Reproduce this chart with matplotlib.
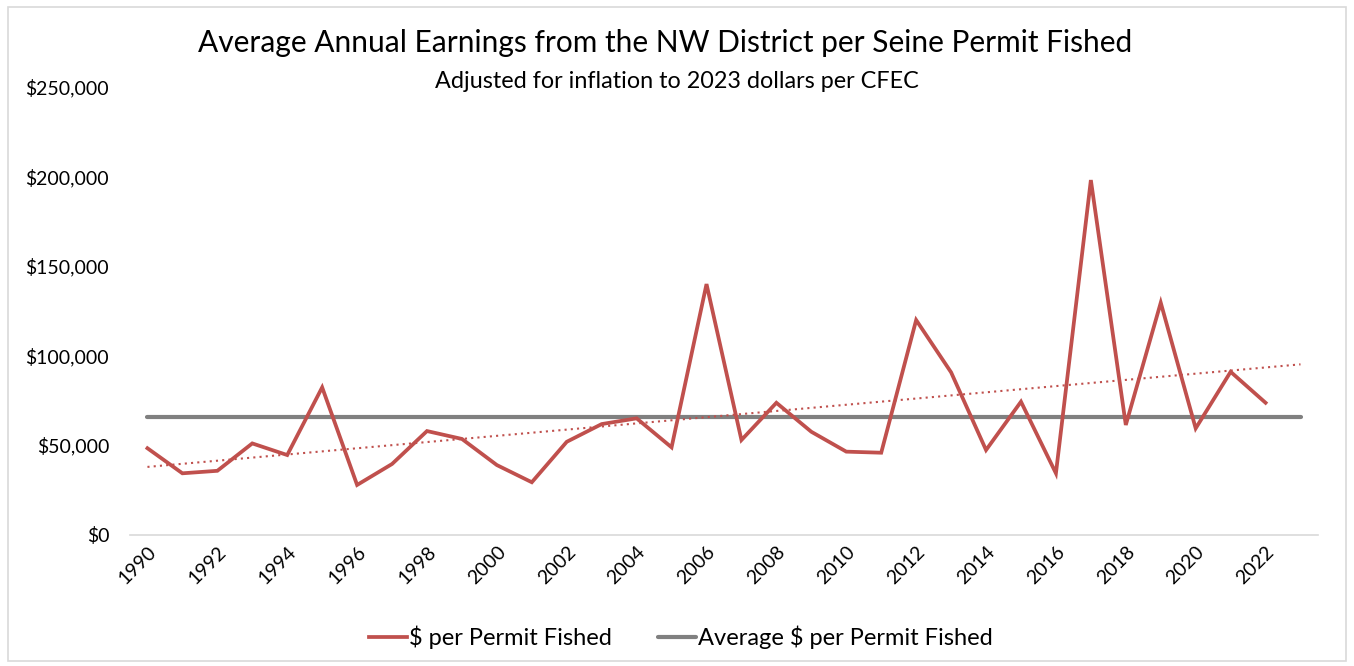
import numpy as np
import matplotlib
matplotlib.use("Agg")
import matplotlib.pyplot as plt
from matplotlib.patches import Rectangle
from matplotlib.ticker import FuncFormatter

plt.rcParams['font.family'] = ['Lato', 'DejaVu Sans']

years = list(range(1990, 2024))  # category axis includes 2023
earnings = [48200, 34200, 35600, 50900, 44400, 82200, 27700, 39400, 57800, 53400,
            38800, 29200, 51800, 61700, 64900, 48700, 139900, 52800, 73600, 57400,
            46300, 45700, 119800, 90600, 47200, 74200, 34200, 198000, 61200, 129500,
            59300, 90900, 73600]
title = "Average Annual Earnings from the NW District per Seine Permit Fished"
subtitle = "Adjusted for inflation to 2023 dollars per CFEC"
series_labels = ["$ per Permit Fished", "Average $ per Permit Fished"]
yticks = [0, 50000, 100000, 150000, 200000, 250000]

RED = "#C0504D"
GRAY = "#808080"

fig = plt.figure(figsize=(13.54, 6.66), dpi=100)
fig.patches.append(Rectangle((0.006, 0.008), 0.988, 0.982, transform=fig.transFigure,
                             fill=False, edgecolor="#d9d9d9", linewidth=1.2))

ax = fig.add_axes([0.096, 0.1974, 0.8774, 0.6720])
idx = np.arange(len(years))
n = len(earnings)
avg = np.mean(earnings)

ax.plot(idx[:n], earnings, color=RED, linewidth=2.7, solid_joinstyle='miter',
        label=series_labels[0], zorder=3)
ax.plot(idx, [avg] * len(years), color=GRAY, linewidth=3.0, solid_capstyle='round',
        label=series_labels[1], zorder=2)
coef = np.polyfit(idx[:n], earnings, 1)
ax.plot(idx, np.polyval(coef, idx), color=RED, linewidth=1.5, linestyle=(0, (1, 2.0)),
        zorder=2)

ax.set_xlim(-0.5, len(years) - 0.5)
ax.set_ylim(0, 250000)
ax.set_yticks(yticks)
ax.yaxis.set_major_formatter(FuncFormatter(lambda v, p: f"${v:,.0f}"))
ax.set_xticks(idx[:n:2])
ax.set_xticklabels([str(y) for y in years[:n:2]], rotation=45, ha='right',
                   rotation_mode='anchor')
for s in ['top', 'right', 'left']:
    ax.spines[s].set_visible(False)
ax.spines['bottom'].set_color("#d9d9d9")
ax.spines['bottom'].set_linewidth(1.2)
ax.tick_params(axis='both', length=0, labelsize=14, colors="#000000")
ax.tick_params(axis='y', pad=15)
ax.tick_params(axis='x', pad=6)

fig.text(0.491, 0.935, title, ha='center', va='center', fontsize=21.5)
fig.text(0.500, 0.877, subtitle, ha='center', va='center', fontsize=16.8)

fig.legend(loc='center', bbox_to_anchor=(0.503, 0.043), ncol=2, frameon=False,
           fontsize=17, handlelength=1.6, handletextpad=0.1, columnspacing=1.95)

fig.savefig("out.png", dpi=100)
